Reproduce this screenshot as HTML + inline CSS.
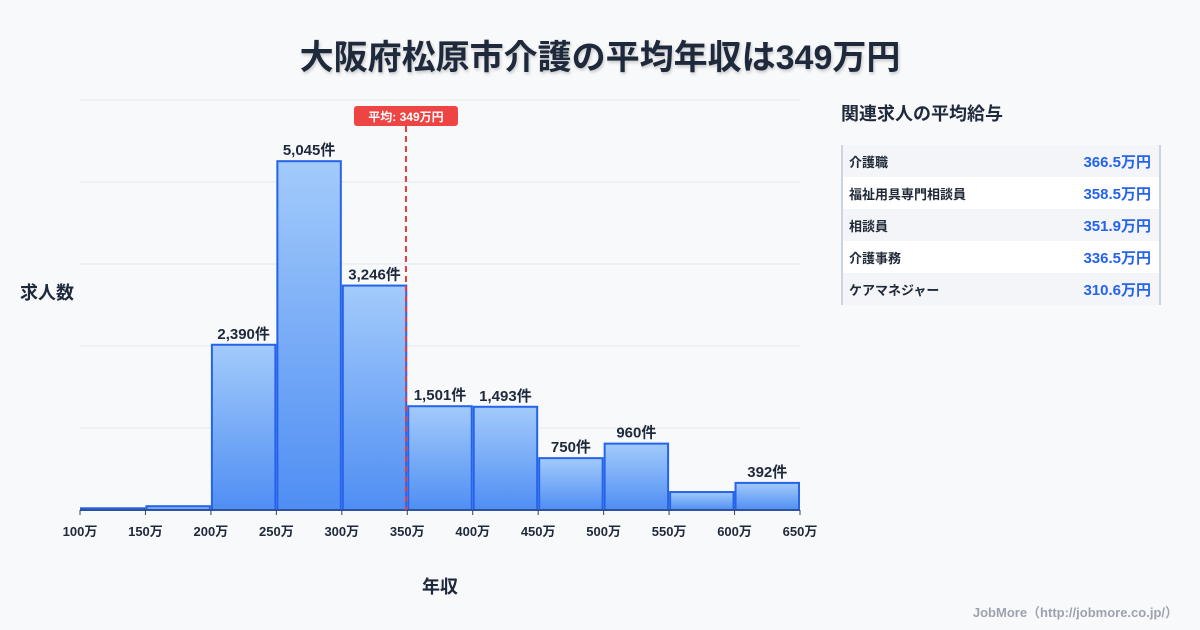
<!DOCTYPE html>
<html><head><meta charset="utf-8"><style>
body{margin:0;width:1200px;height:630px;background:#f8f9fb;font-family:"Liberation Sans","Noto Sans CJK JP",sans-serif;overflow:hidden;position:relative;color:#1f2937}
.title{position:absolute;top:30px;left:0;width:1200px;text-align:center;font-size:34px;font-weight:bold;color:#1e293b;text-shadow:1px 2px 3px rgba(0,0,0,.2)}
.side{position:absolute;left:841px;top:100px;width:320px}
.side h3{margin:0 0 19px 0;font-size:18px;font-weight:bold;color:#1e293b}
.tbl{border-left:2px solid #cbd5e1;border-right:2px solid #cbd5e1}
.row{height:32px;display:flex;justify-content:space-between;align-items:center;padding:0 8px 0 6px;font-size:13px;font-weight:bold}
.row:nth-child(odd){background:#f3f5f8}.row:nth-child(even){background:#fff}
.row .v{color:#2563eb;font-size:15px}
.foot{position:absolute;right:22px;top:602px;font-size:13px;color:#9ca3af;font-weight:bold}
</style></head><body>
<div class="title">大阪府松原市介護の平均年収は349万円</div>
<svg id="c" width="1200" height="630" style="position:absolute;left:0;top:0">
<defs><linearGradient id="g" x1="0" y1="0" x2="0" y2="1"><stop offset="0" stop-color="#a3cbfb"/><stop offset="1" stop-color="#4f8ef3"/></linearGradient></defs>
</svg>
<div class="side">
<h3>関連求人の平均給与</h3>
<div class="tbl">
<div class="row"><span>介護職</span><span class="v">366.5万円</span></div>
<div class="row"><span>福祉用具専門相談員</span><span class="v">358.5万円</span></div>
<div class="row"><span>相談員</span><span class="v">351.9万円</span></div>
<div class="row"><span>介護事務</span><span class="v">336.5万円</span></div>
<div class="row"><span>ケアマネジャー</span><span class="v">310.6万円</span></div>
</div></div>
<div class="foot">JobMore（http://jobmore.co.jp/）</div>
<script>
const binStarts=[100,150,200,250,300,350,400,450,500,550,600];
const counts=[25,55,2390,5045,3246,1501,1493,750,960,260,392];
const shownLabels=["","","2,390件","5,045件","3,246件","1,501件","1,493件","750件","960件","","392件"];
const tickLabels=["100万","150万","200万","250万","300万","350万","400万","450万","500万","550万","600万","650万"];
const tickValues=[100,150,200,250,300,350,400,450,500,550,600,650];
const avgValue=349;
const NS="http://www.w3.org/2000/svg",svg=document.getElementById('c');
const X0=80,X1=800,XMIN=100,XMAX=650,YB=510,YT=100,YMAX=5930;
const x=v=>X0+(v-XMIN)/(XMAX-XMIN)*(X1-X0);
const y=v=>YB-v/YMAX*(YB-YT);
function mk(t,a,txt){const e=document.createElementNS(NS,t);for(const k in a)e.setAttribute(k,a[k]);if(txt!=null)e.textContent=txt;svg.appendChild(e);return e;}
for(let i=0;i<=5;i++){const gy=YB-i*82;
const g=mk('line',{x1:X0,x2:X1,y1:gy,y2:gy,stroke:'#e5e7eb','stroke-width':1});

}
counts.forEach((c,i)=>{const a=x(binStarts[i])+1,b=x(binStarts[i]+50)-1;
const r=mk('rect',{x:a,y:y(c),width:b-a,height:YB-y(c),fill:'url(#g)',stroke:'#2563eb','stroke-width':2});


if(shownLabels[i]){const t=mk('text',{x:(a+b)/2,y:y(c)-6,'text-anchor':'middle','font-size':15,'font-weight':'bold',fill:'#1e293b'},shownLabels[i]);

}});
const ax=mk('line',{x1:X0,x2:X1,y1:YB,y2:YB,stroke:'#374151','stroke-width':1});


tickValues.forEach((v,i)=>{mk('line',{x1:x(v),x2:x(v),y1:YB,y2:YB+5,stroke:'#374151'});
const t=mk('text',{x:x(v),y:536,'text-anchor':'middle','font-size':13,'font-weight':'bold',fill:'#1e293b'},tickLabels[i]);

});
const al=mk('line',{x1:x(avgValue),x2:x(avgValue),y1:126,y2:YB,stroke:'#e53e3e','stroke-width':2,'stroke-dasharray':'6,4'});


const ab=mk('rect',{x:x(avgValue)-52,y:106,width:104,height:20,rx:3,fill:'#ef4444'});


const at=mk('text',{x:x(avgValue),y:121,'text-anchor':'middle','font-size':12,'font-weight':'bold',fill:'#fff'},'平均: '+avgValue+'万円');


const yt=mk('text',{x:20,y:299,'font-size':18,'font-weight':'bold',fill:'#1e293b'},'求人数');


const xt=mk('text',{x:440,y:593,'text-anchor':'middle','font-size':18,'font-weight':'bold',fill:'#1e293b'},'年収');


</script>
</body></html>
